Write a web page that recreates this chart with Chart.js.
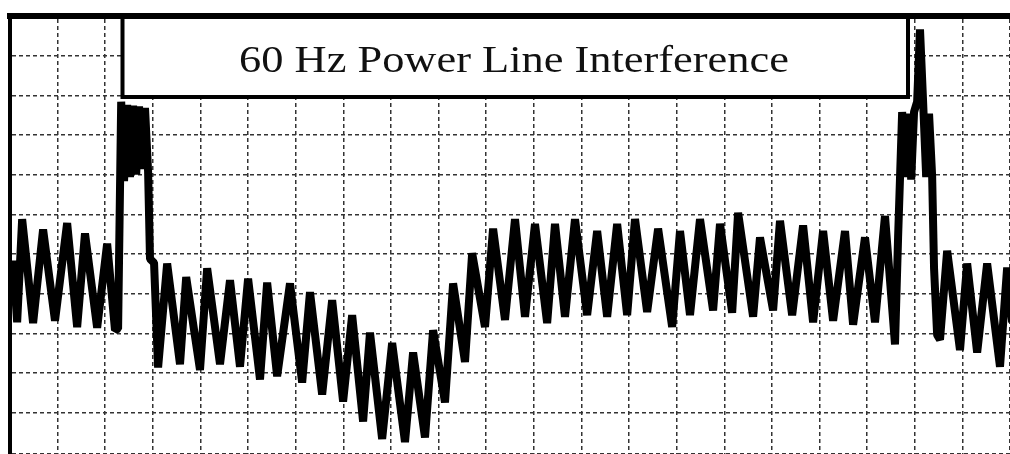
<!DOCTYPE html>
<html>
<head>
<meta charset="utf-8">
<script src="https://cdn.jsdelivr.net/npm/chart.js@4.4.1/dist/chart.umd.min.js"></script>
<style>
    body { margin: 0; background: #fff; }
    #wrap { width: 1010px; height: 454px; }
</style>
</head>
<body>
<div id="wrap"><canvas id="ecgChart"></canvas></div>
<script>
const chartTitle = '60 Hz Power Line Interference';

// temps en ms
const timeMs = [
    0, 17, 38, 84, 126, 176, 227, 269, 302, 353, 395, 428, 441,
    454, 466, 479, 491, 504, 517, 529, 542, 554, 567, 575, 592,
    609, 647, 701, 727, 785, 815, 869, 911, 953, 987, 1037, 1067, 1109, 1163,
    1214, 1247, 1298, 1340, 1386, 1424, 1470, 1499, 1550, 1592, 1646, 1680,
    1730, 1764, 1814, 1848, 1898, 1928, 1982, 2016,
    2066, 2108, 2150, 2192, 2243, 2276, 2318, 2360, 2411, 2453, 2495, 2537,
    2579, 2612, 2663, 2709, 2768, 2801, 2843, 2885, 2940, 2969, 3020, 3045,
    3108, 3137, 3192, 3221, 3272, 3318, 3360, 3402, 3444, 3494, 3528, 3578,
    3620, 3662, 3704,
    3717, 3734, 3746, 3759, 3772, 3784, 3797, 3809, 3822, 3835, 3847, 3860, 3868, 3881,
    3893, 3923, 3977, 4007, 4049, 4091, 4145, 4175, 4196
];

// amplitude en mV
const voltageMv = [
    2.42, 1.64, 2.94, 1.63, 2.81, 1.66, 2.89, 1.58, 2.76, 1.57, 2.63, 1.54, 1.56,
    4.42, 3.42, 4.38, 3.47, 4.37, 3.50, 4.36, 3.57, 4.34, 3.54, 2.44, 2.39,
    1.07, 2.38, 1.11, 2.21, 1.04, 2.32, 1.11, 2.17, 1.08, 2.19, 0.92, 2.14, 0.96, 2.13,
    0.88, 2.02, 0.73, 1.92, 0.64, 1.73, 0.39, 1.51, 0.17, 1.38, 0.13, 1.26,
    0.19, 1.54, 0.63, 2.13, 1.14, 2.51, 1.58, 2.82,
    1.67, 2.94, 1.71, 2.88, 1.63, 2.88, 1.71, 2.94, 1.73, 2.79, 1.71, 2.88,
    1.73, 2.94, 1.77, 2.82, 1.58, 2.79, 1.73, 2.94, 1.79, 2.88, 1.76, 3.02,
    1.71, 2.71, 1.79, 2.92, 1.73, 2.86, 1.64, 2.79, 1.66, 2.79, 1.61, 2.71,
    1.64, 2.98, 1.36,
    2.71, 4.29, 3.47, 4.27, 3.44, 4.29, 4.42, 5.33, 4.42, 3.47, 4.27, 3.48, 2.32, 1.48,
    1.42, 2.54, 1.29, 2.38, 1.26, 2.38, 1.08, 2.33, 1.64
];

// papier ECG : 200 ms et 0.5 mV par carreau
const gridStepMs = 200;
const gridStepMv = 0.5;

// cadre blanc du titre, par-dessus la grille
const titleBox = {
    id: 'titleBox',
    afterDraw(chart) {
        const ctx = chart.ctx;
        ctx.save();
        ctx.fillStyle = '#fff';
        ctx.fillRect(122, 19, 786, 78);
        ctx.strokeStyle = '#000';
        ctx.lineWidth = 4;
        ctx.beginPath();
        ctx.moveTo(122.5, 17);
        ctx.lineTo(122.5, 97);
        ctx.lineTo(908, 97);
        ctx.lineTo(908, 17);
        ctx.stroke();
        ctx.translate(514, 72);
        ctx.scale(1.2, 1);
        ctx.fillStyle = '#111';
        ctx.font = '37px "Liberation Serif", serif';
        ctx.textAlign = 'center';
        ctx.textBaseline = 'alphabetic';
        ctx.fillText(chartTitle, 0, 0);
        ctx.restore();
    }
};

const ctx = document.getElementById('ecgChart').getContext('2d');
new Chart(ctx, {
    type: 'line',
    data: {
        datasets: [{
            data: timeMs.map((t, i) => ({ x: t, y: voltageMv[i] })),
            borderColor: '#000',
            borderWidth: 8,
            borderJoinStyle: 'bevel',
            pointRadius: 0,
            tension: 0
        }]
    },
    plugins: [titleBox],
    options: {
        responsive: true,
        maintainAspectRatio: false,
        animation: false,
        layout: { padding: { left: 10, top: 16 } },
        plugins: { legend: { display: false }, tooltip: { enabled: false } },
        scales: {
            x: {
                type: 'linear',
                position: 'top',
                min: -13,
                max: 4187,
                ticks: { display: false, stepSize: gridStepMs },
                grid: { color: '#333', lineWidth: 1.5, drawTicks: false },
                border: { color: '#000', width: 6, dash: [4, 3] }
            },
            y: {
                min: -0.02,
                max: 5.5,
                ticks: { display: false, stepSize: gridStepMv },
                grid: { color: '#333', lineWidth: 1.5, drawTicks: false },
                border: { color: '#000', width: 4, dash: [4, 3] }
            }
        }
    }
});
</script>
</body>
</html>
